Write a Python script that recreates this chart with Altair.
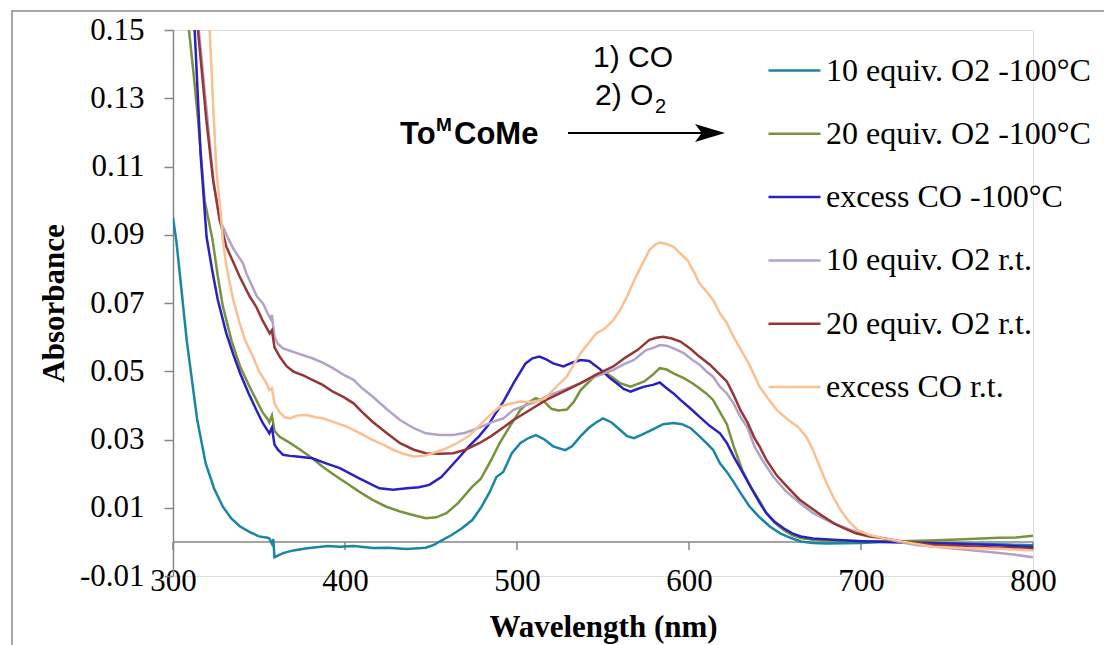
import altair as alt
import pandas as pd

# ---------------- data ----------------
series_names = [
    "10 equiv. O2 -100°C",
    "20 equiv. O2 -100°C",
    "excess CO -100°C",
    "10 equiv. O2 r.t.",
    "20 equiv. O2 r.t.",
    "excess CO r.t.",
]
series_colors = ["#1A86A3", "#77933C", "#2A21C2", "#B3A2C7", "#953735", "#FAC090"]

wl_teal = [300, 302, 308, 314, 319, 324, 329, 334, 339, 345, 350, 355, 356, 357.5, 358.3, 359, 361, 364, 370,
           378, 390, 397, 405, 416, 425, 436, 447, 452, 455, 462, 468, 474, 479, 484, 488, 492, 497, 502, 507,
           511, 516, 521, 528, 532, 537, 542, 546, 550, 555, 560, 564, 568, 573, 579, 585, 591, 596, 601, 606,
           610, 614, 618, 622, 626, 630, 635, 641, 647, 653, 659, 665, 672, 680, 690, 700, 715, 730, 750, 770,
           785, 800]
abs_teal = [0.095, 0.088, 0.059, 0.036, 0.023, 0.0155, 0.0103, 0.0068, 0.0045, 0.0028, 0.0016, 0.0012, 0.0010,
            -0.0005, 0.0008, -0.0045, -0.004, -0.0033, -0.0025, -0.0019, -0.0012, -0.0014, -0.0012, -0.0018,
            -0.0017, -0.0021, -0.0017, -0.0008, 0.0001, 0.002, 0.004, 0.0064, 0.010, 0.0145, 0.019, 0.0205,
            0.026, 0.029, 0.0305, 0.0313, 0.030, 0.028, 0.0269, 0.028, 0.031, 0.0335, 0.035, 0.0362, 0.035,
            0.0328, 0.031, 0.0304, 0.0315, 0.033, 0.0345, 0.0348, 0.0345, 0.0333, 0.031, 0.029, 0.027, 0.023,
            0.0205, 0.0175, 0.0143, 0.0105, 0.0072, 0.0045, 0.0025, 0.0012, 0.0001, -0.0003, -0.0005, -0.0004,
            -0.0003, 0.0, -0.0002, -0.0004, -0.0006, -0.0008, -0.001]

wl_green = [309.3, 312, 314.5, 318.4, 323, 326, 329, 334, 339, 344, 348.4, 352, 355, 356, 357.5, 359, 362, 368,
            374, 381, 387, 394, 401, 408, 416, 424, 432, 440, 447, 453, 459, 466, 474, 479, 485, 490, 496, 502,
            507, 511, 516, 520, 524, 529, 533, 537, 542, 546, 552, 556, 560, 566, 574, 579, 583, 587, 591, 597,
            602, 606, 610, 614, 618, 622, 626, 631, 636, 641, 645, 650, 655, 660, 665, 672, 680, 690, 700, 720,
            740, 760, 780, 790, 800]
abs_green = [0.15, 0.137, 0.124, 0.100, 0.0885, 0.078, 0.069, 0.059, 0.0514, 0.046, 0.0416, 0.038, 0.036, 0.035,
             0.037, 0.0325, 0.0308, 0.029, 0.027, 0.0245, 0.022, 0.0195, 0.0172, 0.0148, 0.0123, 0.0103, 0.0089,
             0.0078, 0.0069, 0.0072, 0.0084, 0.0115, 0.0162, 0.0185, 0.024, 0.029, 0.034, 0.0387, 0.041, 0.0421,
             0.041, 0.039, 0.0385, 0.0388, 0.041, 0.0445, 0.047, 0.0489, 0.0494, 0.048, 0.0465, 0.0455, 0.047,
             0.049, 0.0509, 0.0505, 0.0494, 0.048, 0.0465, 0.045, 0.0435, 0.0416, 0.038, 0.0345, 0.028, 0.021,
             0.016, 0.012, 0.0084, 0.0055, 0.0035, 0.002, 0.0011, 0.0006, 0.0004, 0.0003, 0.0002, 0.0002, 0.0004,
             0.0008, 0.0012, 0.0013, 0.0018]

wl_blue = [312.6, 316, 319.5, 323, 326, 331, 335, 339, 344, 348.4, 352, 356, 357.5, 359, 361, 364, 368, 372, 381,
           389, 397, 408, 420, 428, 436, 443, 449, 456, 465, 472, 478, 483, 488, 492, 498, 505, 509, 513, 517,
           521, 527, 532, 537, 542, 546, 550, 554, 558, 562, 566, 570, 574, 579, 583, 587, 591, 595, 601, 606,
           612, 618, 622, 626, 631, 636, 641, 645, 650, 655, 660, 665, 672, 684, 700, 720, 740, 760, 780, 800]
abs_blue = [0.15, 0.114, 0.0894, 0.079, 0.071, 0.0611, 0.055, 0.0494, 0.0435, 0.0387, 0.035, 0.0318, 0.0335,
            0.0285, 0.027, 0.0255, 0.0252, 0.025, 0.0245, 0.023, 0.0216, 0.0187, 0.0157, 0.0153, 0.0157, 0.016,
            0.0167, 0.019, 0.024, 0.028, 0.031, 0.034, 0.038, 0.041, 0.0465, 0.0523, 0.0538, 0.0543, 0.0535,
            0.0523, 0.0514, 0.0525, 0.0533, 0.053, 0.0515, 0.0499, 0.048, 0.0465, 0.0448, 0.044, 0.0448, 0.0455,
            0.046, 0.0467, 0.045, 0.0435, 0.0416, 0.039, 0.0367, 0.034, 0.0318, 0.029, 0.025, 0.0205, 0.016,
            0.0115, 0.0084, 0.0058, 0.004, 0.0025, 0.0016, 0.001, 0.0006, 0.0002, -0.0001, -0.0003, -0.0006,
            -0.001, -0.0015]

wl_lav = [315, 320, 323.5, 327, 329, 332, 335, 340.7, 342.6, 348.8, 352.3, 355, 357.2, 357.5, 359, 361, 364, 368,
          372, 381, 387, 393, 399, 405, 410, 416, 424, 432, 440, 447, 455, 463, 470, 478, 485, 492, 498, 505, 511,
          517, 527, 537, 546, 556, 562, 568, 572, 575, 580, 583, 587, 591, 597, 602, 606, 610, 614, 618, 622, 626,
          630, 634, 638, 642, 649, 656, 664.5, 672, 680, 687, 694, 703, 713, 722, 732, 745, 761, 775, 790, 800]
abs_lav = [0.15, 0.124, 0.106, 0.0945, 0.0924, 0.089, 0.086, 0.0816, 0.0787, 0.0719, 0.0699, 0.067, 0.065, 0.0665,
           0.060, 0.058, 0.0567, 0.056, 0.0553, 0.0538, 0.0525, 0.0509, 0.049, 0.0475, 0.045, 0.0426, 0.039,
           0.0357, 0.0333, 0.0318, 0.0313, 0.0313, 0.032, 0.0335, 0.035, 0.0362, 0.0387, 0.040, 0.041, 0.0426,
           0.0445, 0.0465, 0.0485, 0.0504, 0.052, 0.0533, 0.055, 0.0562, 0.057, 0.0577, 0.0575, 0.0567, 0.0553,
           0.0533, 0.052, 0.050, 0.0484, 0.0455, 0.0435, 0.0405, 0.0365, 0.0335, 0.028, 0.0245, 0.0191, 0.015,
           0.0113, 0.0085, 0.0064, 0.0048, 0.0035, 0.002, 0.0011, 0.0, -0.0009, -0.0015, -0.0023, -0.003,
           -0.0038, -0.0045]

wl_red = [314.5, 319.4, 323.3, 327.2, 331, 335, 338.8, 344.6, 348.4, 352, 356.2, 357.5, 359, 362, 366, 370, 376,
          381, 387, 393, 399, 405, 410, 416, 424, 432, 440, 447, 455, 463, 470, 478, 485, 492, 498, 507, 517, 527,
          537, 546, 556, 563, 570, 577, 581, 585, 590, 595, 601, 606, 612, 618, 622, 626, 630, 634, 638, 641, 645,
          651, 657, 664, 670, 677, 684, 690, 697, 705, 713, 725, 742, 760, 780, 800]
abs_red = [0.15, 0.1236, 0.106, 0.0943, 0.0865, 0.082, 0.0777, 0.0719, 0.0689, 0.065, 0.0611, 0.062, 0.057,
           0.0543, 0.0515, 0.0499, 0.0487, 0.0475, 0.046, 0.044, 0.0425, 0.0406, 0.038, 0.0352, 0.032, 0.0289,
           0.027, 0.026, 0.0258, 0.026, 0.027, 0.0289, 0.031, 0.0335, 0.0357, 0.0385, 0.0416, 0.044, 0.0465,
           0.049, 0.0514, 0.054, 0.0562, 0.0592, 0.0598, 0.0601, 0.0596, 0.0587, 0.0565, 0.0543, 0.052, 0.049,
           0.047, 0.043, 0.0385, 0.035, 0.0305, 0.028, 0.024, 0.0195, 0.0162, 0.0125, 0.0103, 0.0078, 0.0055,
           0.004, 0.0025, 0.0016, 0.0011, 0.0, -0.0009, -0.0013, -0.0017, -0.002]

wl_orange = [321.3, 323.3, 325.2, 328.1, 329, 331, 333, 335, 338.8, 342, 346.5, 350, 354.3, 356, 357.5, 359, 362,
             365, 368, 372, 377.5, 383, 387, 394, 401, 408, 416, 422, 428, 434, 440, 446, 451, 458, 465, 472, 478,
             484, 490, 496, 502, 507, 511, 516, 521, 525, 529, 533, 537, 542, 546, 551, 556, 560, 564, 568, 572,
             577, 580, 583, 587, 591, 595, 599, 603, 606, 610, 614, 618, 622, 626, 630, 635, 641, 646, 651, 657,
             663, 668, 672, 676, 680, 684, 688, 693, 698, 705, 713, 725, 742, 760, 780, 800]
abs_orange = [0.15, 0.1285, 0.109, 0.0943, 0.0885, 0.081, 0.0758, 0.071, 0.064, 0.059, 0.0543, 0.050, 0.0465,
              0.0445, 0.045, 0.0405, 0.038, 0.0365, 0.0362, 0.037, 0.0372, 0.0365, 0.0362, 0.035, 0.0338, 0.032,
              0.0299, 0.0285, 0.027, 0.0258, 0.025, 0.0252, 0.026, 0.0272, 0.0289, 0.031, 0.034, 0.037, 0.0396,
              0.0405, 0.0411, 0.041, 0.0411, 0.042, 0.0445, 0.0465, 0.0484, 0.052, 0.0553, 0.0585, 0.0611, 0.0625,
              0.065, 0.068, 0.0719, 0.0765, 0.0806, 0.0855, 0.087, 0.0877, 0.0873, 0.0865, 0.0845, 0.0826, 0.079,
              0.0758, 0.0735, 0.0709, 0.067, 0.0641, 0.060, 0.0565, 0.052, 0.0455, 0.042, 0.0387, 0.036, 0.0338,
              0.031, 0.027, 0.022, 0.0172, 0.013, 0.0094, 0.006, 0.0035, 0.002, 0.0011, 0.0, -0.0014, -0.0018,
              -0.002, -0.0025]

x_ticks = [300, 400, 500, 600, 700, 800]
y_ticks = [-0.01, 0.01, 0.03, 0.05, 0.07, 0.09, 0.11, 0.13, 0.15]

# ---------------- build table ----------------
all_wl = [wl_teal, wl_green, wl_blue, wl_lav, wl_red, wl_orange]
all_abs = [abs_teal, abs_green, abs_blue, abs_lav, abs_red, abs_orange]
rows = []
for name, wls, abss in zip(series_names, all_wl, all_abs):
    for w, a in zip(wls, abss):
        rows.append({"series": name, "wl": w, "A": a})
df = pd.DataFrame(rows)

SERIF = "Liberation Serif"
SANS = "Liberation Sans"
GRAY = "#868686"

xscale = alt.Scale(domain=[300, 800], nice=False, zero=False)
yscale = alt.Scale(domain=[-0.01, 0.15], nice=False, zero=False)

lines = alt.Chart(df).mark_line(strokeWidth=2.5, clip=True).encode(
    x=alt.X("wl:Q", scale=xscale,
            axis=alt.Axis(values=x_ticks, format="d", domain=False, ticks=False, tickSize=0, grid=False,
                          labelFlush=False, labelOverlap=False,
                          labelFont=SERIF, labelFontSize=31, labelColor="black", labelBaseline="middle",
                          labelPadding=5, title="Wavelength (nm)", titleFont=SERIF, titleFontSize=31,
                          titleFontWeight="bold", titleColor="black", titlePadding=16)),
    y=alt.Y("A:Q", scale=yscale,
            axis=alt.Axis(values=y_ticks, grid=False, domainColor=GRAY, domainWidth=1.5, tickColor=GRAY,
                          tickWidth=1.5, tickSize=9, labelFlush=False, labelOverlap=False,
                          labelExpr="datum.value < 0 ? '-' + format(abs(datum.value), '.2f') : format(datum.value, '.2f')",
                          labelFont=SERIF, labelFontSize=31, labelColor="black", labelPadding=20,
                          title="Absorbance", titleFont=SERIF, titleFontSize=31, titleFontWeight="bold",
                          titleColor="black", titlePadding=9)),
    color=alt.Color("series:N", scale=alt.Scale(domain=series_names, range=series_colors),
                    legend=alt.Legend(title=None, orient="none", legendX=594, legendY=13, symbolType="stroke",
                                      symbolSize=2704, symbolStrokeWidth=2.5, labelFont=SERIF,
                                      labelFontSize=32, labelColor="black", labelOffset=4, rowPadding=19.3,
                                      labelLimit=500, padding=0)),
    detail="series:N",
)

# x axis line drawn at zero, with its ticks
axis_df = pd.DataFrame({"x0": [x_ticks[0]], "x1": [x_ticks[-1]], "y0": [0.0]})
x_axis_line = alt.Chart(axis_df).mark_rule(color=GRAY, strokeWidth=1.5).encode(
    x=alt.X("x0:Q", scale=xscale), x2="x1:Q", y=alt.Y("y0:Q", scale=yscale))
tick_df = pd.DataFrame({"t": x_ticks, "y0": [0.0] * len(x_ticks)})
x_axis_ticks = alt.Chart(tick_df).mark_rule(color=GRAY, strokeWidth=1.5, y2Offset=8).encode(
    x=alt.X("t:Q", scale=xscale), y=alt.Y("y0:Q", scale=yscale), y2="y0:Q")

# outer frame of the figure
frame = alt.Chart(pd.DataFrame({"k": [0]})).mark_rect(fill=None, stroke="#8a8a8a", strokeWidth=1.5).encode(
    x=alt.value(-161), x2=alt.value(1100), y=alt.value(-19), y2=alt.value(800))

# reaction scheme annotation
def txt(s, x, y, size, weight="normal", font=SANS):
    return alt.Chart(pd.DataFrame({"s": [s]})).mark_text(
        font=font, fontSize=size, fontWeight=weight, align="left", baseline="alphabetic", color="black"
    ).encode(x=alt.value(x), y=alt.value(y), text="s:N")

ann = [
    txt("To", 227, 114, 31, "bold"),
    txt("M", 263, 101, 19, "bold"),
    txt("CoMe", 281, 114, 31, "bold"),
    txt("1) CO", 420, 37, 30),
    txt("2) O", 422, 75, 30),
    txt("2", 482, 83, 20),
]
arrow_line = alt.Chart(pd.DataFrame({"k": [0]})).mark_rule(color="black", strokeWidth=2).encode(
    x=alt.value(395), x2=alt.value(530), y=alt.value(103))
arrow_head = alt.Chart(pd.DataFrame({"k": [0]})).mark_point(
    shape="M-1,-0.6L1,0L-1,0.6L-0.55,0Z", filled=True, color="black", opacity=1, size=900
).encode(x=alt.value(537), y=alt.value(103))

chart = alt.layer(frame, x_axis_line, x_axis_ticks, lines, *ann, arrow_line, arrow_head).properties(
    width=860, height=546,
    autosize=alt.AutoSizeParams(type="none"),
    padding={"left": 173, "top": 30, "right": 71, "bottom": 69},
).configure_view(stroke=None).configure(background="white")

chart.save("out.html", embed_options={"renderer": "svg", "actions": False})
